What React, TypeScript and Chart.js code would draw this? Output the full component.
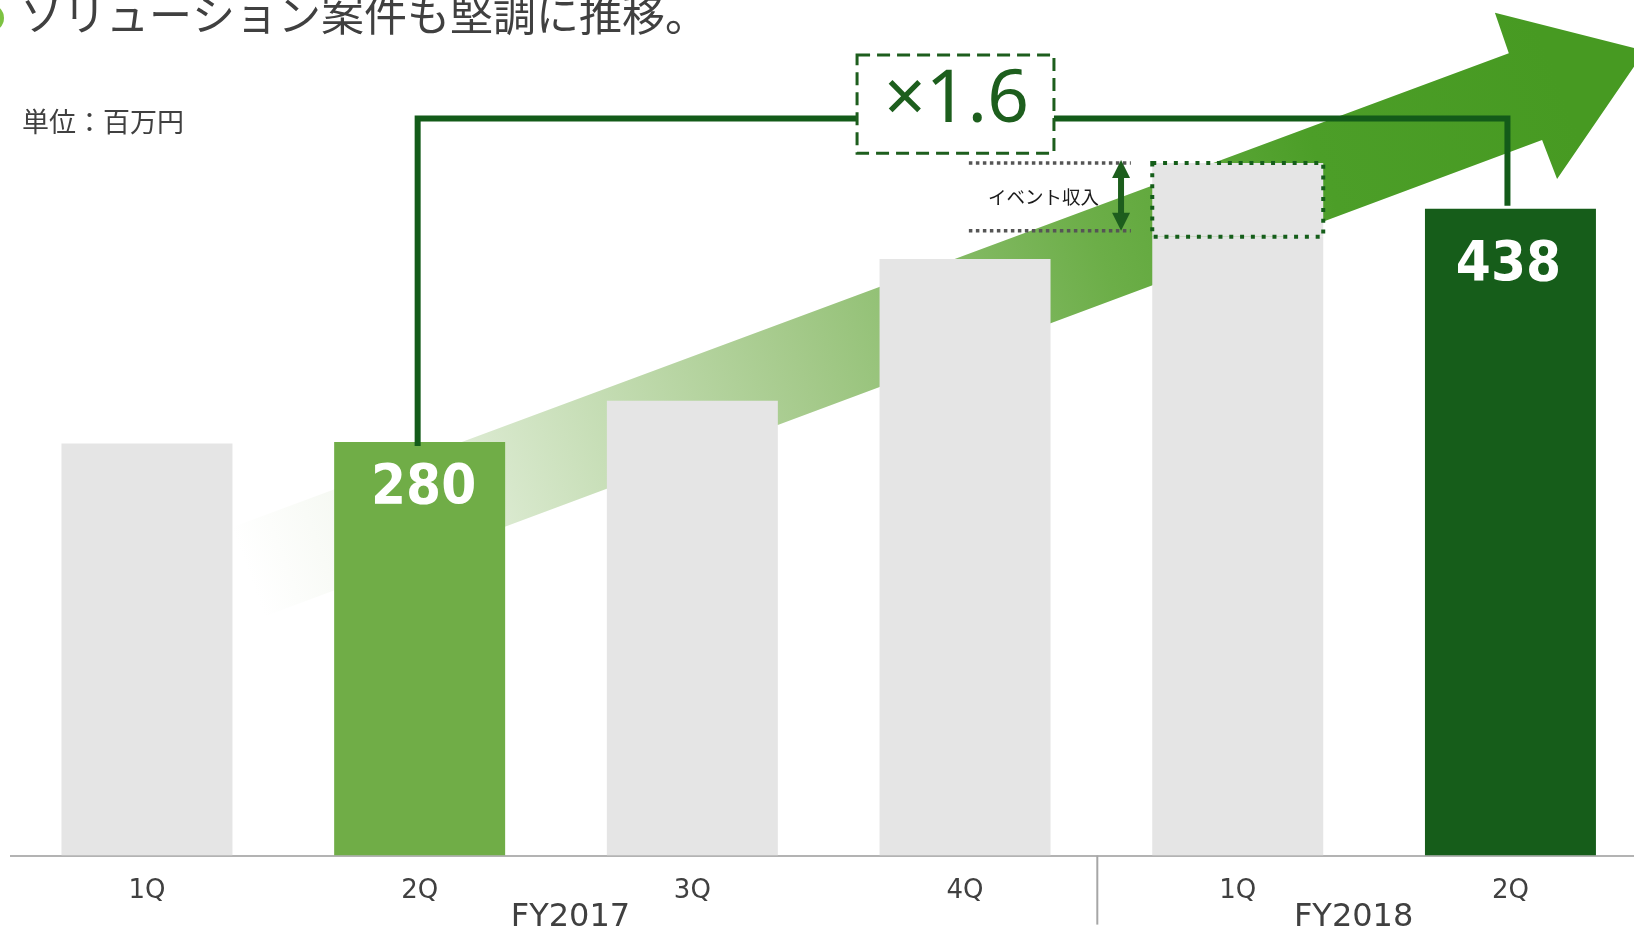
import React, { useEffect, useRef } from 'react';
import { Chart, registerables } from 'chart.js';

Chart.register(...registerables);

// ---- data ----
const categories = ['1Q', '2Q', '3Q', '4Q', '1Q', '2Q'];
const fiscalYears = ['FY2017', 'FY2018'];
const baseValues = [279, 280, 308, 404, 419, 438];
const eventValues = [0, 0, 0, 0, 50, 0];
const labeledBars = [1, 5];
const growthLabel = '×1.6';
const titleText = 'ソリューション案件も堅調に推移。';
const unitText = '単位：百万円';
const eventText = 'イベント収入';

// ---- styles ----
const GRAY = '#e5e5e5';
const barColors = [GRAY, '#70ad47', GRAY, GRAY, GRAY, '#165d1a'];
const DARK = '#135b19';
const TEXT = '#404040';
const CANVAS_W = 1660;
const CANVAS_H = 928;

const decorPlugin = {
  id: 'decor',
  beforeDatasetsDraw(chart: any) {
    const { ctx, scales } = chart;
    const x = scales.x;
    const y = scales.y;
    const P = (i: number, v: number) => [x.getPixelForValue(i), y.getPixelForValue(v)];
    // big growth arrow (index / value units)
    const poly = [
      [0.315, 222.5],
      [4.994, 543.2],
      [4.943, 570.7],
      [5.493, 544.9],
      [5.171, 458.1],
      [5.116, 484.5],
      [0.425, 161.6],
    ].map(([i, v]) => P(i, v));
    const [g0x, g0y] = P(0.37, 192);
    const [g1x, g1y] = P(5.181, 522.4);
    const grad = ctx.createLinearGradient(g0x, g0y, g1x, g1y);
    grad.addColorStop(0, 'rgba(255,255,255,1)');
    grad.addColorStop(0.08, '#f6f9f3');
    grad.addColorStop(0.2, '#d6e7ca');
    grad.addColorStop(0.42, '#a5ca8b');
    grad.addColorStop(0.65, '#6cae48');
    grad.addColorStop(0.82, '#4c9e28');
    grad.addColorStop(1, '#479a22');
    ctx.save();
    ctx.beginPath();
    poly.forEach(([px, py], k) => (k === 0 ? ctx.moveTo(px, py) : ctx.lineTo(px, py)));
    ctx.closePath();
    ctx.fillStyle = grad;
    ctx.fill();
    ctx.restore();
  },
  afterDatasetsDraw(chart: any) {
    const { ctx, scales } = chart;
    const x = scales.x;
    const y = scales.y;
    const meta0 = chart.getDatasetMeta(0).data;
    const meta1 = chart.getDatasetMeta(1).data;
    ctx.save();

    // title bullet + title
    ctx.fillStyle = '#7dc242';
    ctx.beginPath();
    ctx.arc(-10, 18, 14, 0, Math.PI * 2);
    ctx.fill();
    ctx.fillStyle = TEXT;
    ctx.font = '43px "Noto Sans CJK JP"';
    ctx.textAlign = 'left';
    ctx.textBaseline = 'middle';
    ctx.fillText(titleText, 20, 15);

    // unit
    ctx.font = '27px "Noto Sans CJK JP"';
    ctx.fillText(unitText, 22, 122);

    // bracket
    const bar2 = meta0[1];
    const bar6 = meta0[5];
    const by = y.getPixelForValue(499);
    const boxL = x.getPixelForValue(2.604);
    const boxR = x.getPixelForValue(3.326);
    const boxT = y.getPixelForValue(542.1);
    const boxB = y.getPixelForValue(475.6);
    const lx = bar2.x - 2;
    const rx = bar6.x - 3;
    ctx.strokeStyle = DARK;
    ctx.lineWidth = 6;
    ctx.lineJoin = 'miter';
    ctx.lineCap = 'butt';
    ctx.beginPath();
    ctx.moveTo(lx, bar2.y + 4);
    ctx.lineTo(lx, by);
    ctx.lineTo(boxL, by);
    ctx.moveTo(boxR, by);
    ctx.lineTo(rx, by);
    ctx.lineTo(rx, bar6.y - 3);
    ctx.stroke();

    // dashed box with growth label
    ctx.strokeStyle = '#1d5e1d';
    ctx.lineWidth = 3;
    ctx.setLineDash([13, 7]);
    ctx.strokeRect(boxL, boxT, boxR - boxL, boxB - boxT);
    ctx.setLineDash([]);
    ctx.fillStyle = '#1d5e1d';
    ctx.font = '400 73px "Noto Sans"';
    ctx.textAlign = 'center';
    ctx.textBaseline = 'alphabetic';
    ctx.fillText(growthLabel, (boxL + boxR) / 2 + 1, boxB - 31);

    // event revenue box
    const ev = meta1[4];
    const evL = ev.x - ev.width / 2;
    const evR = ev.x + ev.width / 2;
    ctx.strokeStyle = '#155e1a';
    ctx.lineWidth = 4;
    ctx.setLineDash([4, 6.8]);
    ctx.strokeRect(evL, ev.y, evR - evL, ev.base - ev.y);

    // gray dotted guide lines
    const gl = x.getPixelForValue(3.014);
    const gr = x.getPixelForValue(3.608);
    const gBottom = y.getPixelForValue(423);
    ctx.strokeStyle = '#555555';
    ctx.lineWidth = 3.5;
    ctx.setLineDash([3.5, 3.5]);
    ctx.beginPath();
    ctx.moveTo(gl, ev.y);
    ctx.lineTo(gr, ev.y);
    ctx.moveTo(gl, gBottom);
    ctx.lineTo(gr, gBottom);
    ctx.stroke();
    ctx.setLineDash([]);

    // double-headed arrow
    const ax = x.getPixelForValue(3.572);
    const aTop = ev.y - 3;
    const aBot = gBottom;
    const hw = 9;
    const hh = 18;
    ctx.fillStyle = '#1d5e1d';
    ctx.fillRect(ax - 3, aTop + hh - 1, 6, aBot - aTop - 2 * hh + 2);
    ctx.beginPath();
    ctx.moveTo(ax, aTop);
    ctx.lineTo(ax + hw, aTop + hh);
    ctx.lineTo(ax - hw, aTop + hh);
    ctx.closePath();
    ctx.fill();
    ctx.beginPath();
    ctx.moveTo(ax, aBot);
    ctx.lineTo(ax + hw, aBot - hh);
    ctx.lineTo(ax - hw, aBot - hh);
    ctx.closePath();
    ctx.fill();

    // event label
    ctx.fillStyle = '#1a1a1a';
    ctx.font = '18.5px "Noto Sans CJK JP"';
    ctx.textAlign = 'left';
    ctx.textBaseline = 'middle';
    ctx.fillText(eventText, x.getPixelForValue(3.084), (ev.y + gBottom) / 2);

    // value labels on bars
    ctx.fillStyle = '#ffffff';
    ctx.font = 'bold 56px "DejaVu Sans"';
    ctx.textAlign = 'center';
    ctx.textBaseline = 'alphabetic';
    labeledBars.forEach((i) => {
      const b = meta0[i];
      const off = i === 1 ? 61 : 71;
      const dxl = i === 1 ? 4 : -2;
      ctx.save();
      ctx.translate(b.x + dxl, b.y + off);
      ctx.scale(0.9, 1);
      ctx.fillText(String(baseValues[i]), 0, 0);
      ctx.restore();
    });

    // fiscal year divider + labels
    const bottom = chart.chartArea.bottom;
    const dx = x.getPixelForValue(3.485);
    ctx.strokeStyle = '#a6a6a6';
    ctx.lineWidth = 2;
    ctx.beginPath();
    ctx.moveTo(dx, bottom);
    ctx.lineTo(dx, bottom + 69);
    ctx.stroke();

    ctx.fillStyle = TEXT;
    ctx.font = '32px "DejaVu Sans"';
    ctx.textAlign = 'center';
    ctx.textBaseline = 'alphabetic';
    ctx.fillText(fiscalYears[0], x.getPixelForValue(1.553), bottom + 70);
    ctx.fillText(fiscalYears[1], x.getPixelForValue(4.425), bottom + 70);

    ctx.restore();
  },
};

export default function App() {
  const canvasRef = useRef<HTMLCanvasElement | null>(null);

  useEffect(() => {
    const canvas = canvasRef.current;
    if (!canvas) return;
    const chart = new Chart(canvas, {
      type: 'bar',
      data: {
        labels: categories,
        datasets: [
          {
            data: baseValues,
            backgroundColor: barColors,
            borderWidth: 0,
            stack: 's',
            barPercentage: 0.627,
            categoryPercentage: 1,
          },
          {
            data: eventValues,
            backgroundColor: GRAY,
            borderWidth: 0,
            stack: 's',
            barPercentage: 0.627,
            categoryPercentage: 1,
          },
        ],
      },
      options: {
        responsive: false,
        animation: false,
        events: [],
        layout: { padding: { left: 10.6, right: 13.2, top: 28.5, bottom: 0 } },
        plugins: {
          legend: { display: false },
          tooltip: { enabled: false },
        },
        scales: {
          x: {
            stacked: true,
            grid: { display: true, drawOnChartArea: false, drawTicks: false, color: 'rgba(0,0,0,0)' },
            border: { display: true, color: '#b3b3b3', width: 2 },
            ticks: {
              color: TEXT,
              font: { family: '"DejaVu Sans"', size: 26 },
              padding: 20,
              maxRotation: 0,
              autoSkip: false,
            },
            afterFit: (scale: any) => {
              scale.height = 72.4;
            },
          },
          y: {
            display: false,
            stacked: true,
            min: 0,
            max: 560,
          },
        },
      },
      plugins: [decorPlugin],
    });
    (document as any).fonts?.ready?.then(() => {
      try { chart.draw(); } catch (e) { /* ignore */ }
    });
    return () => chart.destroy();
  }, []);

  return (
    <div
      style={{
        position: 'fixed',
        left: 0,
        top: 0,
        width: 1634,
        height: 928,
        overflow: 'hidden',
        background: '#ffffff',
      }}
    >
      <canvas
        ref={canvasRef}
        width={CANVAS_W}
        height={CANVAS_H}
        style={{ display: 'block', width: CANVAS_W, height: CANVAS_H }}
      />
    </div>
  );
}
